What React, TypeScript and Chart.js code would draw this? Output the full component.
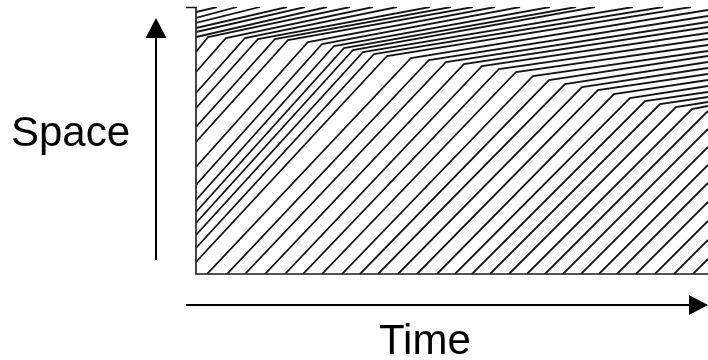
import React, { useEffect, useRef } from "react";
import { Chart, registerables } from "chart.js";

Chart.register(...registerables);

// Time axis runs 0..512, space axis 0..267 (road start to road end).
const TIME_END = 512;
const ROAD_END = 267;

// Vehicles already queued near the road end at time 0: position, time they leave the road.
const queuedStartSpace = [262, 256, 251, 246, 242, 237];
const queuedTopTime = [21, 41, 64, 91, 109, 131];

// Vehicles on the road at time 0 (entering the view at the left edge).
const leftEntrySpace = [222, 202, 181, 166, 147, 132, 107, 89, 74, 62, 51, 39, 26, 12];
const leftKneeTime = [12, 30, 49, 62, 79, 92, 112, 126, 138, 148, 157, 167, 178, 191];
const leftKneeSpace = [237, 236, 236, 235, 235, 234, 232, 230, 228, 226, 224, 222, 220, 218];
const leftTopTime = [154, 177, 201, 234, 255, 277, 299, 324, 354, 380, 399, 437, 467, 495];

// Vehicles entering at the road start (bottom edge).
const bottomEntryTime = [
  11, 31, 49, 69, 89, 107, 126, 146, 164, 182, 202, 221, 241, 259, 276, 294, 313, 331, 349,
  367, 385, 403, 421, 440, 459, 478, 497,
];
const bottomKneeTime = [215, 233, 250, 268, 286, 303, 320, 337, 353, 369, 386, 402, 418, 434, 449, 464, 480, 496];
const bottomKneeSpace = [216, 214, 212, 210, 208, 205, 202, 198, 194, 190, 187, 184, 180, 176, 173, 170, 167, 165];
const bottomExitSpace = [
  264, 258, 252, 247, 241, 235, 229, 223, 218, 212, 206, 200, 194, 188, 182, 177, 172, 168, 163,
  145, 127, 109, 91, 72, 53, 34, 15,
];

type Pt = { x: number; y: number };

function buildTrajectories(): Pt[][] {
  const out: Pt[][] = [];
  queuedStartSpace.forEach((s, i) => {
    out.push([
      { x: 0, y: s },
      { x: queuedTopTime[i], y: ROAD_END },
    ]);
  });
  leftEntrySpace.forEach((s, i) => {
    out.push([
      { x: 0, y: s },
      { x: leftKneeTime[i], y: leftKneeSpace[i] },
      { x: leftTopTime[i], y: ROAD_END },
    ]);
  });
  bottomEntryTime.forEach((t, i) => {
    const pts: Pt[] = [{ x: t, y: 0 }];
    if (i < bottomKneeTime.length) pts.push({ x: bottomKneeTime[i], y: bottomKneeSpace[i] });
    pts.push({ x: TIME_END, y: bottomExitSpace[i] });
    out.push(pts);
  });
  return out;
}

const decorPlugin = {
  id: "decor",
  afterDraw(chart: any) {
    const ctx: CanvasRenderingContext2D = chart.ctx;
    const a = chart.chartArea;
    ctx.save();
    ctx.strokeStyle = "#1a1a1a";
    ctx.fillStyle = "#000";
    // frame
    ctx.lineWidth = 1.6;
    ctx.beginPath();
    ctx.moveTo(186, a.top + 0.5);
    ctx.lineTo(a.left, a.top + 0.5);
    ctx.lineTo(a.left, a.bottom);
    ctx.lineTo(a.right, a.bottom);
    ctx.stroke();

    // space arrow
    ctx.lineWidth = 2;
    ctx.strokeStyle = "#000";
    ctx.beginPath();
    ctx.moveTo(156, 260);
    ctx.lineTo(156, 36);
    ctx.stroke();
    ctx.beginPath();
    ctx.moveTo(156, 18);
    ctx.lineTo(145.5, 38);
    ctx.lineTo(166.5, 38);
    ctx.closePath();
    ctx.fill();

    // time arrow
    ctx.beginPath();
    ctx.moveTo(186, 305);
    ctx.lineTo(692, 305);
    ctx.stroke();
    ctx.beginPath();
    ctx.moveTo(708, 305);
    ctx.lineTo(689, 295);
    ctx.lineTo(689, 315);
    ctx.closePath();
    ctx.fill();

    // labels
    ctx.font = "42px 'Liberation Sans', Arial, Helvetica, sans-serif";
    ctx.textBaseline = "alphabetic";
    ctx.textAlign = "left";
    ctx.fillText("Space", 11, 146);
    ctx.fillText("Time", 379, 354);
    ctx.restore();
  },
};

export default function App() {
  const ref = useRef<HTMLCanvasElement | null>(null);

  useEffect(() => {
    if (!ref.current) return;
    const trajectories = buildTrajectories();
    const chart = new Chart(ref.current, {
      type: "line",
      data: {
        datasets: trajectories.map((pts, i) => ({
          label: `vehicle ${i + 1}`,
          data: pts,
          borderColor: "#141414",
          borderWidth: 1.8,
          pointRadius: 0,
          tension: 0,
          fill: false,
        })),
      },
      options: {
        animation: false,
        responsive: false,
        devicePixelRatio: 1,
        layout: { padding: { left: 196, top: 7, right: 0, bottom: 86 } },
        scales: {
          x: { type: "linear", min: 0, max: TIME_END, display: false },
          y: { type: "linear", min: 0, max: ROAD_END, display: false },
        },
        plugins: {
          legend: { display: false },
          tooltip: { enabled: false },
        },
        events: [],
      },
      plugins: [decorPlugin],
    });
    return () => chart.destroy();
  }, []);

  return (
    <div style={{ position: "absolute", left: 0, top: 0, width: 708, height: 360, background: "#fff" }}>
      <canvas ref={ref} width={708} height={360} style={{ display: "block" }} />
    </div>
  );
}
